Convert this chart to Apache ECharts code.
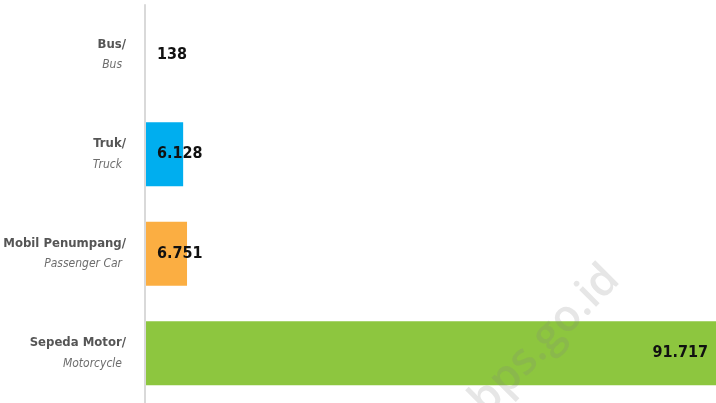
<!DOCTYPE html>
<html>
<head>
<meta charset="utf-8">
<script src="https://cdn.jsdelivr.net/npm/echarts@6/dist/echarts.min.js"></script>
<style>html,body{margin:0;padding:0;background:#fff}#c{width:716px;height:403px}</style>
</head>
<body>
<div id="c"></div>
<script>
const categoriesId = ['Bus/', 'Truk/', 'Mobil Penumpang/', 'Sepeda Motor/'];
const categoriesEn = ['Bus', 'Truck', 'Passenger Car', 'Motorcycle'];
const values = [138, 6128, 6751, 91717];
const colors = ['#00AEEF', '#00AEEF', '#FBAE42', '#8DC63F'];

function fmt(v) { return String(v).replace(/\B(?=(\d{3})+(?!\d))/g, '.'); }

const FONT = '"DejaVu Sans Condensed", "Liberation Sans", sans-serif';
const chart = echarts.init(document.getElementById('c'));
chart.setOption({
  animation: false,
  grid: { left: 145, right: 0, top: 5, bottom: 0, containLabel: false, outerBoundsMode: 'none' },
  xAxis: { type: 'value', min: 0, max: 'dataMax', show: false },
  yAxis: {
    type: 'category', inverse: true, z: 5,
    data: categoriesId.map((c, i) => c + '\n' + categoriesEn[i]),
    axisLine: { show: true, lineStyle: { color: '#d9d9d9', width: 2 } },
    axisTick: { show: false },
    axisLabel: {
      margin: 19,
      formatter: (v) => { const p = v.split('\n'); return '{a|' + p[0] + '}\n{b|' + p[1] + '}'; },
      rich: {
        a: { fontFamily: FONT, fontWeight: 'bold', fontSize: 13, color: '#555555', lineHeight: 21, align: 'right' },
        b: { fontFamily: FONT, fontStyle: 'italic', fontSize: 12, color: '#6d6d6d', lineHeight: 21, align: 'right', padding: [0, 4, 0, 0] }
      }
    }
  },
  series: [{
    type: 'bar', barWidth: 64, z: 2,
    data: values.map((v, i) => ({
      value: v,
      itemStyle: { color: colors[i] },
      label: i === values.length - 1 ? { position: 'insideRight', distance: 8 } : { position: 'insideLeft', distance: 12 }
    })),
    label: {
      show: true, fontFamily: FONT, fontWeight: 'bold', fontSize: 16, color: '#111111',
      formatter: (p) => fmt(p.value)
    }
  }],
  graphic: [{
    type: 'text', x: 545, y: 340, rotation: Math.PI / 4, z: 100,
    style: { text: 'bps.go.id', font: '600 44px "Open Sans", sans-serif', fill: 'rgba(130,130,130,0.2)', textAlign: 'center', textVerticalAlign: 'middle' }
  }]
});
</script>
</body>
</html>
